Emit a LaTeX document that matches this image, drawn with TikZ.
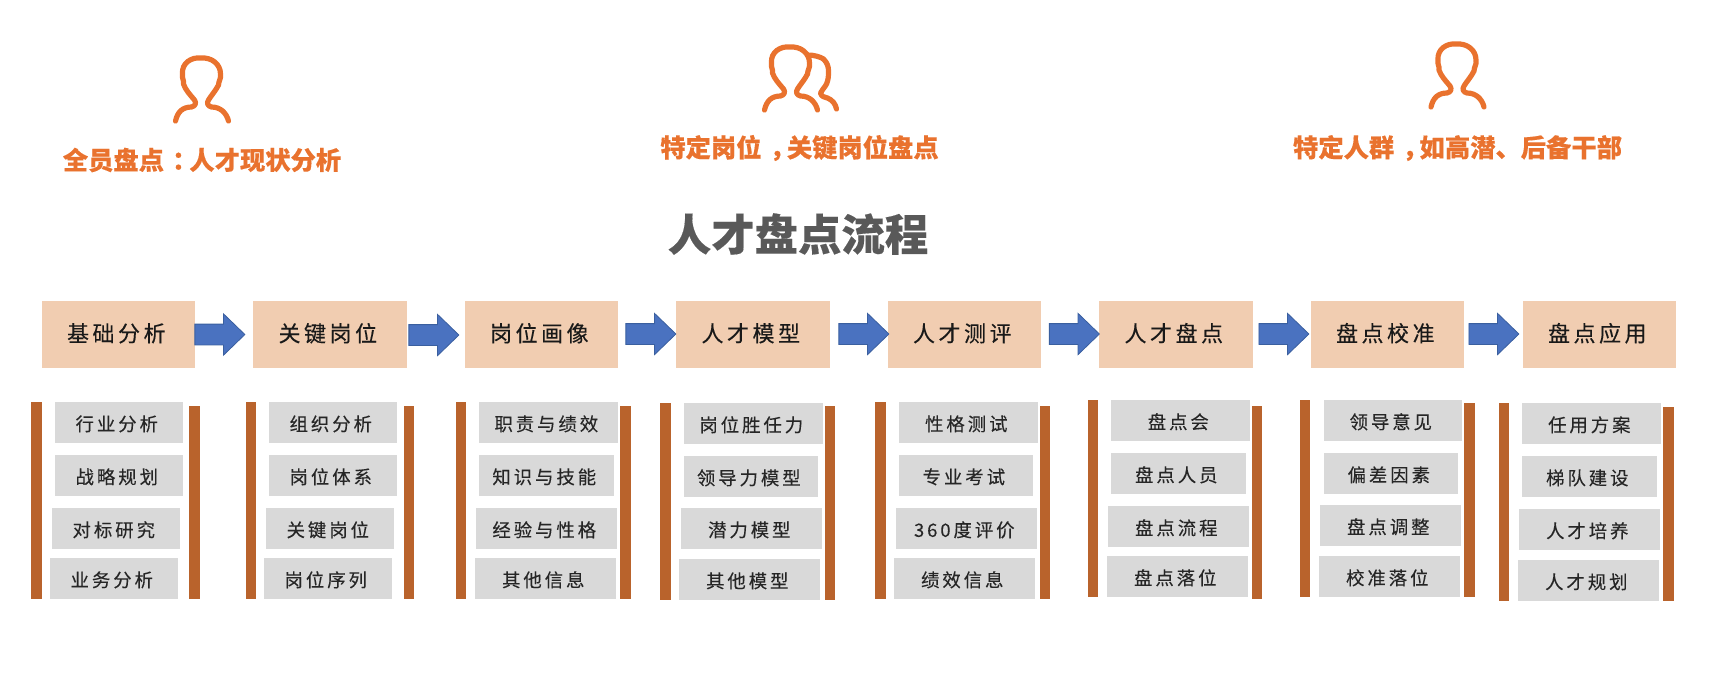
\documentclass[tikz,border=0pt]{standalone}
\usepackage{fontspec}
\usetikzlibrary{shapes.arrows}
\setmainfont[BoldFeatures={FakeBold=0.3}]{Noto Sans CJK SC}
\newfontfamily\itemfont[LetterSpace=16,FakeBold=0.15]{Noto Sans CJK SC}
\newfontfamily\headfont[LetterSpace=16,FakeBold=0.2]{Noto Sans CJK SC}
\definecolor{orangetxt}{HTML}{E9722E}
\definecolor{headfill}{HTML}{F1CDB1}
\definecolor{itemfill}{HTML}{D9D9D9}
\definecolor{barfill}{HTML}{B9632C}
\definecolor{arrowfill}{HTML}{4A72C0}
\definecolor{arrowedge}{HTML}{3A5F9F}
\definecolor{titlegray}{HTML}{595959}
\newcommand{\pxraise}{-0.28pt}
\tikzset{
  headbox/.style={fill=headfill,inner sep=0pt,outer sep=0pt,font=\headfont\fontsize{11}{12}\selectfont,text=black!90},
  itembox/.style={fill=itemfill,inner sep=0pt,outer sep=0pt,font=\itemfont\fontsize{9.2}{10}\selectfont,text=black!85,
    execute at begin node={\renewcommand{\pxraise}{-1.4pt}}},
  barbox/.style={fill=barfill,inner sep=0pt,outer sep=0pt},
  blockarrow/.style={single arrow,fill=arrowfill,draw=arrowedge,line width=0.4pt,inner xsep=0pt,inner ysep=5pt,outer sep=0pt,
    minimum width=20.5pt,minimum height=25pt,single arrow head extend=5.1pt,single arrow tip angle=88,single arrow head indent=0pt},
  caption/.style={font=\bfseries\fontsize{12.65}{14}\selectfont,text=orangetxt,inner sep=0pt},
  titletext/.style={font=\bfseries\fontsize{21.7}{24}\selectfont,text=titlegray,inner sep=0pt},
  personline/.style={draw=orangetxt,line width=2.6pt,line cap=round,line join=round}
}
% [style]{name}{x1}{x2}{y1}{y2}{text}, all in reference pixels
\newcommand{\pxbox}[7][itembox]{%
  \node[#1,minimum width={(#4-#3)*0.5pt},minimum height={(#6-#5)*0.5pt}] (#2) at ({(#3+#4)/2},{(#5+#6)/2}) {\raisebox{\pxraise}[0.8em][0.2em]{#7\kern2.2pt}};}
\newcommand{\pxarrow}[3]{\node[blockarrow] (#1) at ({#2-5},#3) {};}
\newcommand{\centrepunct}[1]{\hspace{0.32em}\char"#1\hspace{-0.32em}}
\newcommand{\personpath}[2]{%
  \draw[personline,shift={(#1,#2)}]
    (-26,64) .. controls (-24,55) and (-19,50) .. (-10,50)
    .. controls (-6,49) and (-5,46) .. (-7,43)
    .. controls (-12,37) and (-16,33) .. (-18,27)
    .. controls (-17,24) and (-20,21) .. (-19,17)
    .. controls (-20,6) and (-10,0) .. (-1,1)
    .. controls (10,0) and (19,7) .. (19,17)
    .. controls (20,21) and (17,24) .. (17,28)
    .. controls (14,34) and (10,38) .. (7,43)
    .. controls (5,46) and (6,49) .. (10,50)
    .. controls (19,50) and (25,56) .. (27,64);}
\begin{document}
\begin{tikzpicture}[x=0.5pt,y=-0.5pt]
\useasboundingbox (0,0) rectangle (1718,682);
% people
\personpath{201.5}{57}
\personpath{790.5}{46}
\draw[personline,shift={(790.5,46)}]
  (17,9) .. controls (24,9) and (30,11) .. (33,13)
  .. controls (37,17) and (38,21) .. (38,25)
  .. controls (38,30) and (38,33) .. (36,38)
  .. controls (34,42) and (31,44) .. (30,47)
  .. controls (31,51) and (34,51) .. (37,52)
  .. controls (42,54) and (45,58) .. (46,63);
\personpath{1457}{43}
% captions and title
\node[caption] (c1) at (202,160) {全员盘点\centrepunct{FF1A}人才现状分析};
\node[caption] (c2) at (799.5,148) {特定岗位\centrepunct{FF0C}关键岗位盘点};
\node[caption] (c3) at (1457.5,148) {特定人群\centrepunct{FF0C}如高潜、后备干部};
\node[titletext] (title) at (798,234) {人才盘点流程};
% headers
\pxbox[headbox]{h1}{42}{195}{301}{368}{基础分析}
\pxbox[headbox]{h2}{253}{407}{301}{368}{关键岗位}
\pxbox[headbox]{h3}{465}{618}{301}{368}{岗位画像}
\pxbox[headbox]{h4}{676}{830}{301}{368}{人才模型}
\pxbox[headbox]{h5}{888}{1041}{301}{368}{人才测评}
\pxbox[headbox]{h6}{1099}{1253}{301}{368}{人才盘点}
\pxbox[headbox]{h7}{1311}{1464}{301}{368}{盘点校准}
\pxbox[headbox]{h8}{1523}{1676}{301}{368}{盘点应用}
% arrows
\pxarrow{a1}{219.5}{334.5}
\pxarrow{a2}{433.5}{335}
\pxarrow{a3}{650.5}{334}
\pxarrow{a4}{863.5}{334}
\pxarrow{a5}{1074}{334}
\pxarrow{a6}{1283.5}{334}
\pxarrow{a7}{1493.5}{334}
% column 1
\pxbox[barbox]{l1}{31}{42}{402}{599}{}
\pxbox[barbox]{r1}{189}{200}{406}{599}{}
\pxbox{i11}{55}{183}{402}{443}{行业分析}
\pxbox{i12}{55}{183}{455}{496}{战略规划}
\pxbox{i13}{52}{180}{508}{549}{对标研究}
\pxbox{i14}{50}{178}{558}{599}{业务分析}
% column 2
\pxbox[barbox]{l2}{246}{256}{402}{599}{}
\pxbox[barbox]{r2}{404}{414}{406}{599}{}
\pxbox{i21}{269}{397}{402}{443}{组织分析}
\pxbox{i22}{269}{397}{455}{496}{岗位体系}
\pxbox{i23}{266}{394}{508}{549}{关键岗位}
\pxbox{i24}{264}{392}{558}{599}{岗位序列}
% column 3
\pxbox[barbox]{l3}{456}{466}{402}{599}{}
\pxbox[barbox]{r3}{620}{631}{406}{599}{}
\pxbox{i31}{479}{618}{402}{443}{职责与绩效}
\pxbox{i32}{479}{614}{455}{496}{知识与技能}
\pxbox{i33}{476}{617}{508}{549}{经验与性格}
\pxbox{i34}{475}{616}{558}{599}{其他信息}
% column 4
\pxbox[barbox]{l4}{660}{671}{403}{600}{}
\pxbox[barbox]{r4}{825}{835}{406}{600}{}
\pxbox{i41}{684}{823}{403}{444}{岗位胜任力}
\pxbox{i42}{684}{818}{456}{497}{领导力模型}
\pxbox{i43}{681}{822}{508}{549}{潜力模型}
\pxbox{i44}{679}{820}{559}{600}{其他模型}
% column 5
\pxbox[barbox]{l5}{875}{886}{402}{599}{}
\pxbox[barbox]{r5}{1040}{1050}{406}{599}{}
\pxbox{i51}{899}{1038}{402}{443}{性格测试}
\pxbox{i52}{899}{1033}{455}{496}{专业考试}
\pxbox{i53}{896}{1037}{508}{549}{360度评价}
\pxbox{i54}{894}{1035}{558}{599}{绩效信息}
% column 6
\pxbox[barbox]{l6}{1088}{1098}{400}{597}{}
\pxbox[barbox]{r6}{1252}{1262}{406}{599}{}
\pxbox{i61}{1111}{1250}{400}{441}{盘点会}
\pxbox{i62}{1111}{1246}{453}{494}{盘点人员}
\pxbox{i63}{1108}{1249}{506}{547}{盘点流程}
\pxbox{i64}{1107}{1248}{556}{597}{盘点落位}
% column 7
\pxbox[barbox]{l7}{1300}{1310}{400}{597}{}
\pxbox[barbox]{r7}{1464}{1475}{403}{597}{}
\pxbox{i71}{1324}{1462}{400}{441}{领导意见}
\pxbox{i72}{1324}{1458}{453}{494}{偏差因素}
\pxbox{i73}{1320}{1461}{505}{546}{盘点调整}
\pxbox{i74}{1319}{1460}{556}{597}{校准落位}
% column 8
\pxbox[barbox]{l8}{1499}{1509}{403}{601}{}
\pxbox[barbox]{r8}{1663}{1674}{407}{601}{}
\pxbox{i81}{1522}{1661}{403}{444}{任用方案}
\pxbox{i82}{1522}{1657}{456}{497}{梯队建设}
\pxbox{i83}{1519}{1660}{509}{550}{人才培养}
\pxbox{i84}{1518}{1659}{560}{601}{人才规划}
\end{tikzpicture}
\end{document}
